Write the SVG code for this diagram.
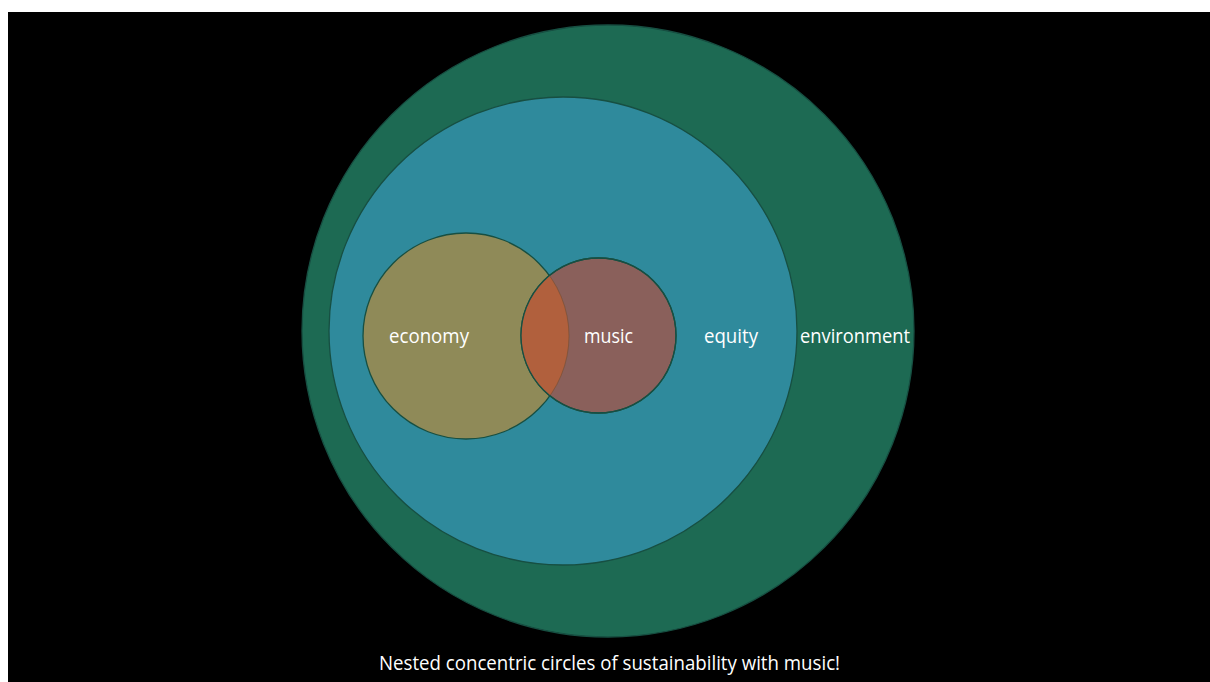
<svg xmlns="http://www.w3.org/2000/svg" width="1210" height="682" viewBox="0 0 1210 682">
  <style>
    .ring { stroke: #174f42; stroke-width: 1.3; }
    .label { font-family: "Open Sans", "Liberation Sans", sans-serif; fill: #ffffff; text-anchor: middle; }
  </style>
  <defs>
    <clipPath id="econClip">
      <circle cx="466" cy="336" r="103"/>
    </clipPath>
    <clipPath id="musicClip">
      <circle cx="598.5" cy="335.5" r="77.5"/>
    </clipPath>
  </defs>

  <!-- page and slide background -->
  <rect x="0" y="0" width="1210" height="682" fill="#ffffff"/>
  <rect x="8" y="12" width="1202" height="670" fill="#000000"/>

  <g id="environment">
    <circle class="ring" cx="608" cy="331" r="306" fill="#1d6a53"/>
    <text class="label" x="855" y="343" font-size="20" textLength="110" lengthAdjust="spacingAndGlyphs">environment</text>
  </g>

  <g id="equity">
    <circle class="ring" cx="563" cy="331" r="234" fill="#2f8a9c"/>
    <text class="label" x="731" y="343" font-size="20" textLength="54" lengthAdjust="spacingAndGlyphs">equity</text>
  </g>

  <g id="economy">
    <circle class="ring" cx="466" cy="336" r="103" fill="#8f8a58"/>
    <text class="label" x="429" y="343" font-size="20" textLength="80" lengthAdjust="spacingAndGlyphs">economy</text>
  </g>

  <g id="music">
    <circle class="ring" cx="598.5" cy="335.5" r="77.5" fill="#8a605b"/>
    <!-- lens where economy and music overlap -->
    <circle cx="598.5" cy="335.5" r="77.5" fill="#b1603d" clip-path="url(#econClip)"/>
    <circle cx="466" cy="336" r="103" fill="none" stroke="#6b4a2e" stroke-width="1" stroke-opacity="0.5" clip-path="url(#musicClip)"/>
    <circle class="ring" cx="598.5" cy="335.5" r="77.5" fill="none"/>
    <text class="label" x="608.5" y="343" font-size="20" textLength="49" lengthAdjust="spacingAndGlyphs">music</text>
  </g>

  <g id="connectors"></g>

  <text id="caption" class="label" x="609.5" y="670" font-size="20" textLength="461" lengthAdjust="spacingAndGlyphs">Nested concentric circles of sustainability with music!</text>
</svg>
